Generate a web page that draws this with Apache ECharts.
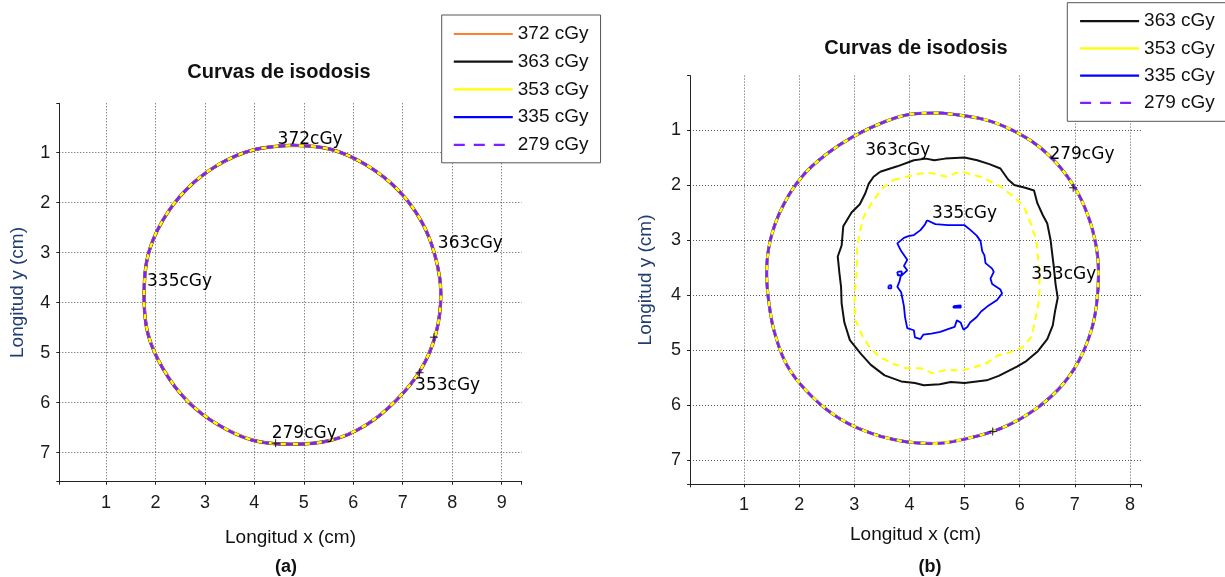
<!DOCTYPE html>
<html>
<head>
<meta charset="utf-8">
<script src="https://cdn.jsdelivr.net/npm/echarts@6/dist/echarts.min.js"></script>
<style>
  html, body { margin: 0; padding: 0; background: #fff; }
  #chart { width: 1225px; height: 577px; }
</style>
</head>
<body>
<div id="chart"></div>
<script>
// legend entries of each panel
const dosesA = ['372 cGy', '363 cGy', '353 cGy', '335 cGy', '279 cGy']
const dosesB = ['363 cGy', '353 cGy', '335 cGy', '279 cGy']

// (a) all isodose curves lie on the same ring (x, y in cm)
const ringA = [
  [4.76, 0.85], [5.54, 0.93], [6.27, 1.25], [6.90, 1.74], [7.37, 2.36], [7.65, 3.05],
  [7.77, 3.82], [7.67, 4.62], [7.37, 5.33], [6.87, 5.95], [6.25, 6.45], [5.55, 6.75],
  [4.74, 6.83], [3.97, 6.75], [3.25, 6.43], [2.65, 5.97], [2.17, 5.35], [1.85, 4.63],
  [1.77, 3.85], [1.85, 3.05], [2.15, 2.35], [2.63, 1.73], [3.27, 1.24], [3.99, 0.94],
  [4.76, 0.85]
]

// (b) outer ring (279 cGy, overlapped by 363 / 353)
const ringB = [
  [4.57, 0.69], [5.40, 0.82], [6.10, 1.13], [6.60, 1.53], [7.00, 2.05], [7.25, 2.59],
  [7.39, 3.13], [7.43, 3.60], [7.39, 4.20], [7.29, 4.67], [7.07, 5.20], [6.75, 5.66],
  [6.29, 6.07], [5.69, 6.41], [5.04, 6.61], [4.44, 6.70], [3.83, 6.65], [3.19, 6.47],
  [2.62, 6.17], [2.12, 5.73], [1.77, 5.26], [1.55, 4.67], [1.45, 4.13], [1.41, 3.60],
  [1.48, 2.99], [1.70, 2.39], [2.05, 1.85], [2.48, 1.45], [2.98, 1.12], [3.55, 0.85],
  [4.05, 0.71], [4.57, 0.69]
]

// (b) inner 363 cGy contour
const iso363B = [
  [3.47, 1.76], [3.78, 1.66], [4.08, 1.55], [4.30, 1.52], [4.45, 1.55], [4.65, 1.52],
  [5.00, 1.50], [5.23, 1.55], [5.45, 1.62], [5.65, 1.70], [5.79, 1.90], [5.90, 2.00],
  [6.10, 2.05], [6.26, 2.10], [6.32, 2.33], [6.42, 2.55], [6.50, 2.70], [6.56, 3.00],
  [6.59, 3.25], [6.62, 3.50], [6.65, 3.80], [6.69, 4.05], [6.64, 4.30], [6.60, 4.55],
  [6.50, 4.80], [6.33, 5.02], [6.12, 5.20], [5.95, 5.30], [5.62, 5.47], [5.40, 5.55],
  [5.00, 5.60], [4.75, 5.58], [4.55, 5.62], [4.26, 5.64], [4.10, 5.60], [3.85, 5.57],
  [3.55, 5.46], [3.30, 5.27], [3.12, 5.07], [2.92, 4.82], [2.82, 4.50], [2.77, 4.15],
  [2.76, 3.85], [2.73, 3.60], [2.70, 3.30], [2.77, 3.10], [2.80, 2.75], [2.95, 2.50],
  [3.10, 2.35], [3.20, 2.15], [3.26, 1.98], [3.35, 1.85], [3.47, 1.76]
]

// (b) inner 353 cGy contour
const iso353B = [
  [3.71, 1.91], [3.95, 1.85], [4.20, 1.79], [4.38, 1.78], [4.55, 1.82], [4.69, 1.85],
  [4.85, 1.78], [5.00, 1.77], [5.15, 1.82], [5.29, 1.85], [5.50, 1.95], [5.65, 2.03],
  [5.89, 2.21], [6.08, 2.40], [6.20, 2.70], [6.30, 3.00], [6.33, 3.30], [6.36, 3.60],
  [6.36, 3.90], [6.35, 4.10], [6.28, 4.45], [6.22, 4.75], [6.05, 4.95], [5.80, 5.05],
  [5.60, 5.10], [5.38, 5.25], [5.15, 5.32], [4.92, 5.38], [4.70, 5.35], [4.42, 5.42],
  [4.20, 5.33], [3.95, 5.33], [3.70, 5.25], [3.45, 5.12], [3.28, 4.95], [3.15, 4.75],
  [3.02, 4.45], [3.00, 4.15], [3.02, 3.85], [3.05, 3.50], [3.05, 3.15], [3.10, 2.85],
  [3.17, 2.58], [3.33, 2.30], [3.52, 2.05], [3.71, 1.91]
]

// (b) inner 335 cGy contour
const iso335B = [
  [4.32, 2.64], [4.47, 2.71], [4.70, 2.73], [5.00, 2.73], [5.11, 2.82], [5.22, 2.92],
  [5.29, 3.02], [5.32, 3.20], [5.36, 3.28], [5.38, 3.42], [5.50, 3.52], [5.53, 3.58],
  [5.47, 3.70], [5.50, 3.80], [5.65, 3.90], [5.68, 3.97], [5.59, 4.09], [5.41, 4.21],
  [5.30, 4.30], [5.22, 4.40], [5.10, 4.50], [5.05, 4.58], [4.98, 4.63], [4.93, 4.50],
  [4.86, 4.46], [4.82, 4.58], [4.70, 4.62], [4.56, 4.67], [4.40, 4.70], [4.25, 4.72],
  [4.20, 4.80], [4.10, 4.77], [4.08, 4.64], [3.96, 4.60], [3.92, 4.40], [3.90, 4.20],
  [3.85, 3.95], [3.78, 3.85], [3.82, 3.75], [3.84, 3.66], [3.96, 3.55], [3.90, 3.47],
  [3.96, 3.36], [3.85, 3.20], [3.78, 3.06], [3.90, 2.96], [3.98, 2.93], [4.08, 2.91],
  [4.20, 2.82], [4.28, 2.72], [4.32, 2.64]
]
// small islands of the 335 cGy contour
const spot335B = [
  [3.62, 3.83], [3.67, 3.82], [3.67, 3.88], [3.62, 3.88], [3.62, 3.83], ['-', '-'],
  [3.78, 3.58], [3.86, 3.57], [3.86, 3.64], [3.79, 3.64], [3.78, 3.58], ['-', '-'],
  [4.80, 4.20], [4.93, 4.19], [4.93, 4.23], [4.80, 4.23], [4.80, 4.20]
]

// contour labels [x, y, text]
const textA = [
  [4.46, 0.73, '372cGy'], [7.70, 2.82, '363cGy'], [1.82, 3.58, '335cGy'],
  [7.24, 5.66, '353cGy'], [4.34, 6.62, '279cGy']
]
const textB = [
  [3.19, 1.37, '363cGy'], [6.53, 1.45, '279cGy'], [4.40, 2.51, '335cGy'], [6.20, 3.63, '353cGy']
]
// '+' marks of the labels
const plusA = [[7.63, 4.69], [7.34, 5.40], [4.43, 6.81]]
const plusB = [[6.97, 2.05], [5.51, 6.48]]

const GAP = ['-', '-']
const FONT = '"Liberation Sans", Arial, sans-serif'
const colors = {
  '372 cGy': '#ff7f2a',
  '363 cGy': '#111111',
  '353 cGy': '#ffff00',
  '335 cGy': '#0000ff',
  '279 cGy': '#7f1fff'
}

function intLabel(v) {
  const r = Math.round(v)
  return Math.abs(v - r) < 1e-6 && r > 0 ? String(r) : ''
}

function xAxis(gi, min, max, gap) {
  return {
    type: 'value', gridIndex: gi, min, max, minInterval: 1, maxInterval: 1,
    name: 'Longitud x (cm)', nameLocation: 'middle', nameGap: gap,
    nameTextStyle: { fontFamily: FONT, fontSize: 19, color: '#111' },
    axisLine: { lineStyle: { color: '#222', width: 1 } },
    axisTick: { show: true, inside: false, length: 3, lineStyle: { color: '#222' } },
    axisLabel: { formatter: intLabel, fontFamily: FONT, fontSize: 18, color: '#1a1a1a', margin: 12 },
    splitLine: { show: true, showMinLine: false, showMaxLine: false, lineStyle: { color: '#555', type: [1, 2], width: 1 } }
  }
}

function yAxis(gi, min, max, gap) {
  return {
    type: 'value', gridIndex: gi, min, max, inverse: true, minInterval: 1, maxInterval: 1,
    name: 'Longitud y (cm)', nameLocation: 'middle', nameGap: gap,
    nameTextStyle: { fontFamily: FONT, fontSize: 19, color: '#1f3d70' },
    axisLine: { show: true, lineStyle: { color: '#222', width: 1 } },
    axisTick: { show: true, inside: false, length: 3, lineStyle: { color: '#222' } },
    axisLabel: { formatter: intLabel, fontFamily: FONT, fontSize: 18, color: '#1a1a1a', margin: 9 },
    splitLine: { show: true, showMinLine: false, showMaxLine: false, lineStyle: { color: '#555', type: [1, 2], width: 1 } }
  }
}

function curve(name, data, gi, width, dash, smooth) {
  return {
    name, type: 'line', data, xAxisIndex: gi, yAxisIndex: gi,
    symbol: 'none', smooth: smooth ? 0.35 : false, connectNulls: false,
    color: colors[name],
    lineStyle: { color: colors[name], width, type: dash || 'solid' },
    silent: true
  }
}

function labels(data, gi) {
  return {
    type: 'scatter', xAxisIndex: gi, yAxisIndex: gi, symbolSize: 1, silent: true,
    itemStyle: { color: 'transparent', opacity: 1 },
    data: data.map(d => ({ value: [d[0], d[1]], name: d[2] })),
    label: {
      show: true, position: 'right', distance: 0, formatter: p => p.name,
      fontFamily: '"DejaVu Sans", Verdana, sans-serif', fontSize: 17, color: '#000', opacity: 1
    },
    z: 5
  }
}

function plus(data, gi) {
  return {
    type: 'scatter', xAxisIndex: gi, yAxisIndex: gi, silent: true,
    symbol: 'path://M0 5L10 5M5 0L5 10', symbolSize: 8,
    itemStyle: { color: 'transparent', borderColor: '#222', borderWidth: 1, opacity: 1 },
    data, z: 4
  }
}

function legendItems(names) {
  return names.map(n => ({
    name: n,
    lineStyle: n === '279 cGy' ? { width: 2.2, type: [11, 9] } : { width: 2.2 }
  }))
}

const legendText = { fontFamily: FONT, fontSize: 19, color: '#111', lineHeight: 18 }

const option = {
  animation: false,
  backgroundColor: '#fff',
  title: [
    { text: 'Curvas de isodosis', left: 279, top: 62, textAlign: 'center', padding: 0,
      textStyle: { fontFamily: FONT, fontSize: 20, fontWeight: 'bold', color: '#111' } },
    { text: 'Curvas de isodosis', left: 916, top: 38, textAlign: 'center', padding: 0,
      textStyle: { fontFamily: FONT, fontSize: 20, fontWeight: 'bold', color: '#111' } }
  ],
  legend: [
    {
      orient: 'vertical', left: 441.7, top: 15, padding: [9.5, 12, 8.5, 11],
      itemWidth: 59, itemHeight: 18, itemGap: 8.7,
      itemStyle: { opacity: 0, borderWidth: 0 },
      borderColor: '#555', borderWidth: 1, backgroundColor: '#fff',
      data: legendItems(dosesA), textStyle: legendText, selectedMode: false, z: 10
    },
    {
      orient: 'vertical', left: 1067.3, top: 2.7, padding: [9, 40, 9, 11.7],
      itemWidth: 59, itemHeight: 18, itemGap: 8.2,
      itemStyle: { opacity: 0, borderWidth: 0 },
      borderColor: '#555', borderWidth: 1, backgroundColor: '#fff',
      data: legendItems(dosesB), textStyle: legendText, selectedMode: false, z: 10
    }
  ],
  grid: [
    { left: 59.3, top: 103.3, width: 462.4, height: 378.4 },
    { left: 690, top: 75.6, width: 451, height: 408.7 }
  ],
  xAxis: [xAxis(0, 0.056, 9.405, 47), xAxis(1, 0.02, 8.2, 41)],
  yAxis: [yAxis(0, 0.012, 7.58, 32), yAxis(1, 0.011, 7.44, 35)],
  series: [
    // panel (a)
    curve('372 cGy', ringA, 0, 3.5, null, true),
    curve('335 cGy', ringA, 0, 2, null, true),
    curve('363 cGy', ringA, 0, 3, null, true),
    curve('353 cGy', ringA, 0, 2.6, null, true),
    curve('279 cGy', ringA, 0, 2.6, [7, 5], true),
    labels(textA, 0),
    plus(plusA, 0),
    // panel (b)
    curve('363 cGy', ringB, 1, 3, null, true),
    curve('353 cGy', ringB, 1, 2.6, null, true),
    curve('279 cGy', ringB, 1, 2.6, [7, 5], true),
    curve('363 cGy', iso363B, 1, 2, null, false),
    curve('353 cGy', iso353B, 1, 2, [7, 5], false),
    curve('335 cGy', iso335B.concat([GAP], spot335B), 1, 1.8, null, false),
    labels(textB, 1),
    plus(plusB, 1)
  ],
  graphic: [
    { type: 'text', x: 286, y: 567, style: { text: '(a)', font: 'bold 18px ' + FONT, fill: '#111', textAlign: 'center', textVerticalAlign: 'middle' } },
    { type: 'text', x: 930, y: 567, style: { text: '(b)', font: 'bold 18px ' + FONT, fill: '#111', textAlign: 'center', textVerticalAlign: 'middle' } }
  ]
}

const chart = echarts.init(document.getElementById('chart'), null, { renderer: 'canvas' })
chart.setOption(option)
</script>
</body>
</html>
